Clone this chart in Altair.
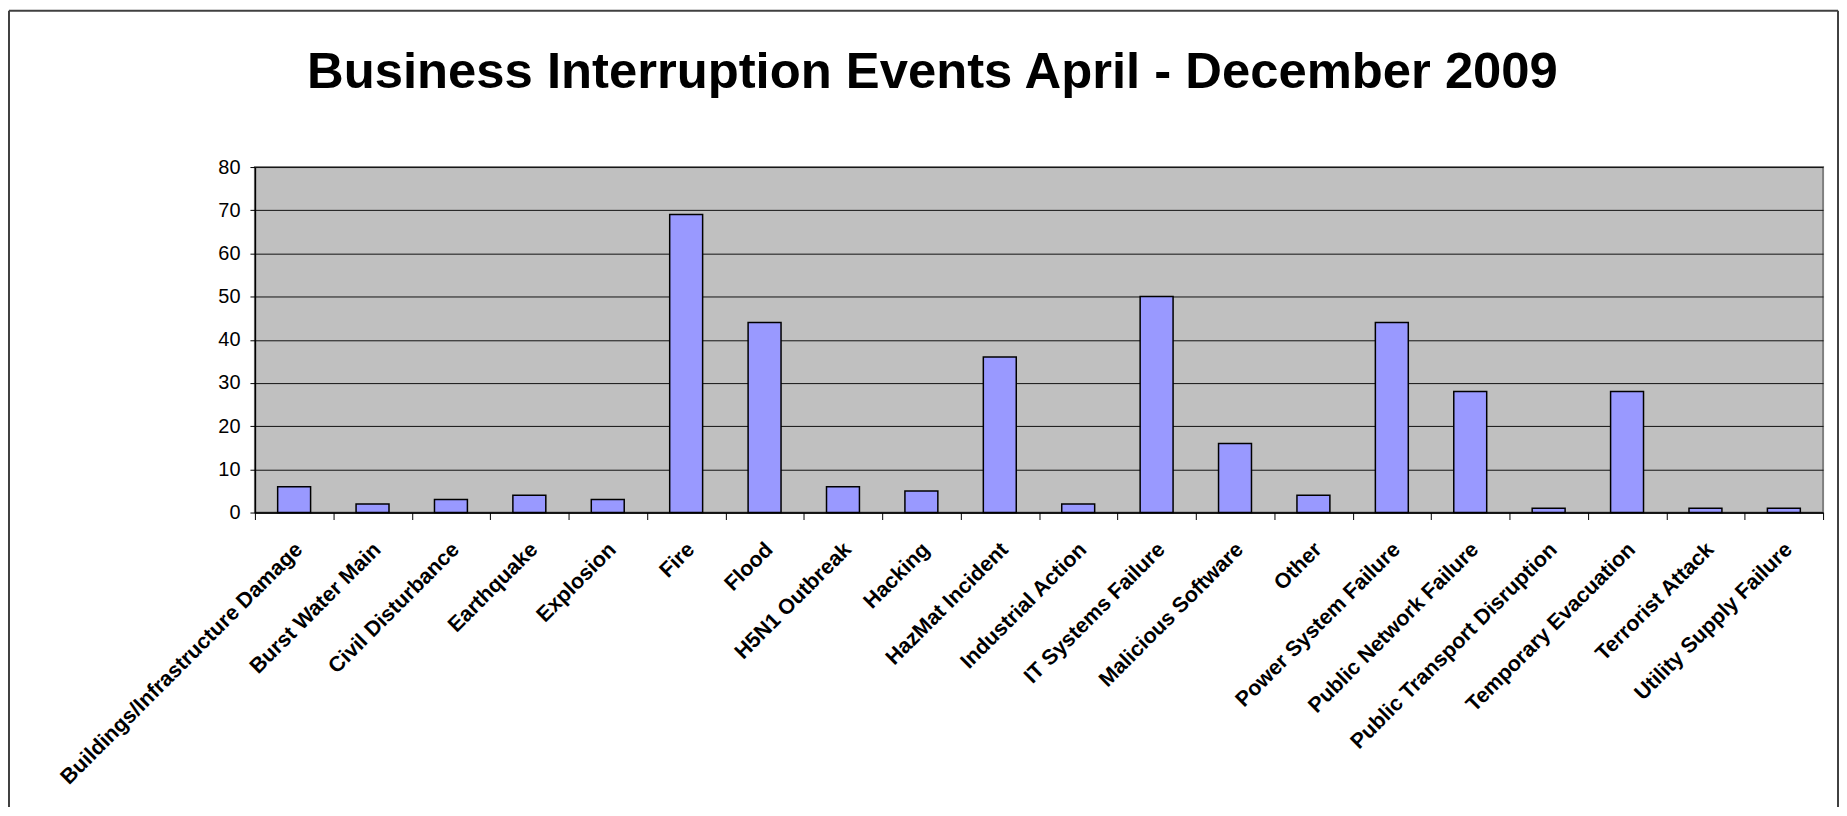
import altair as alt
import pandas as pd

categories = [
    "Buildings/Infrastructure Damage", "Burst Water Main", "Civil Disturbance",
    "Earthquake", "Explosion", "Fire", "Flood", "H5N1 Outbreak", "Hacking",
    "HazMat Incident", "Industrial Action", "IT Systems Failure",
    "Malicious Software", "Other", "Power System Failure",
    "Public Network Failure", "Public Transport Disruption",
    "Temporary Evacuation", "Terrorist Attack", "Utility Supply Failure",
]
events = [6, 2, 3, 4, 3, 69, 44, 6, 5, 36, 2, 50, 16, 4, 44, 28, 1, 28, 1, 1]
y_ticks = [0, 10, 20, 30, 40, 50, 60, 70, 80]
title_text = "Business Interruption Events April - December 2009"

df = pd.DataFrame({"category": categories, "events": events})

FONT = "Liberation Sans"
PLOT_W, PLOT_H = 1575, 347

bars = alt.Chart(df).mark_bar(
    width=alt.RelativeBandSize(0.42),
    fill="#9999FF",
    stroke="#000000",
    strokeWidth=1.5,
).encode(
    x=alt.X(
        "category:N",
        sort=None,
        title=None,
        scale=alt.Scale(paddingInner=0, paddingOuter=0),
        axis=alt.Axis(
            labelAngle=315,
            labelAlign="right",
            labelBaseline="top",
            labelFont=FONT,
            labelFontSize=21.5,
            labelFontWeight="bold",
            labelColor="#000000",
            labelPadding=19,
            labelOffset=-3,
            labelOverlap=False,
            labelLimit=0,
            tickBand="extent",
            tickSize=7,
            tickColor="#000000",
            tickWidth=1,
            domainColor="#000000",
            domainWidth=1.5,
            grid=False,
        ),
    ),
    y=alt.Y(
        "events:Q",
        title=None,
        scale=alt.Scale(domain=[0, 80], nice=False),
        axis=alt.Axis(
            values=y_ticks,
            labelFont=FONT,
            labelFontSize=20,
            labelColor="#000000",
            labelPadding=10,
            tickSize=5,
            tickColor="#000000",
            domainColor="#000000",
            domainWidth=1.5,
            grid=True,
            gridColor="#111111",
            gridWidth=1,
        ),
    ),
)

single = pd.DataFrame({"title": [title_text]})
title_mark = alt.Chart(single).mark_text(
    font=FONT,
    fontSize=51,
    fontWeight="bold",
    color="#000000",
    align="center",
    baseline="alphabetic",
).encode(
    text="title:N",
    x=alt.value(PLOT_W / 2 - 107),
    y=alt.value(-79),
)

border_color = "#404040"
left_border = alt.Chart(single).mark_rule(color=border_color, strokeWidth=2).encode(
    x=alt.value(-247), y=alt.value(-157), y2=alt.value(660)
)
top_border = alt.Chart(single).mark_rule(color=border_color, strokeWidth=2).encode(
    x=alt.value(-247), x2=alt.value(1590), y=alt.value(-157)
)
right_border = alt.Chart(single).mark_rule(color=border_color, strokeWidth=2).encode(
    x=alt.value(1590), y=alt.value(-157), y2=alt.value(660)
)

chart = alt.layer(bars, title_mark, left_border, top_border, right_border).properties(
    width=PLOT_W,
    height=PLOT_H,
    autosize=alt.AutoSizeParams(type="none"),
    padding={"left": 248, "top": 158, "right": 16, "bottom": 294},
    background="#FFFFFF",
).configure_view(
    fill="#C0C0C0",
    stroke="#808080",
    strokeWidth=2,
)

chart.save("out.html", embed_options={"renderer": "svg", "actions": False})
